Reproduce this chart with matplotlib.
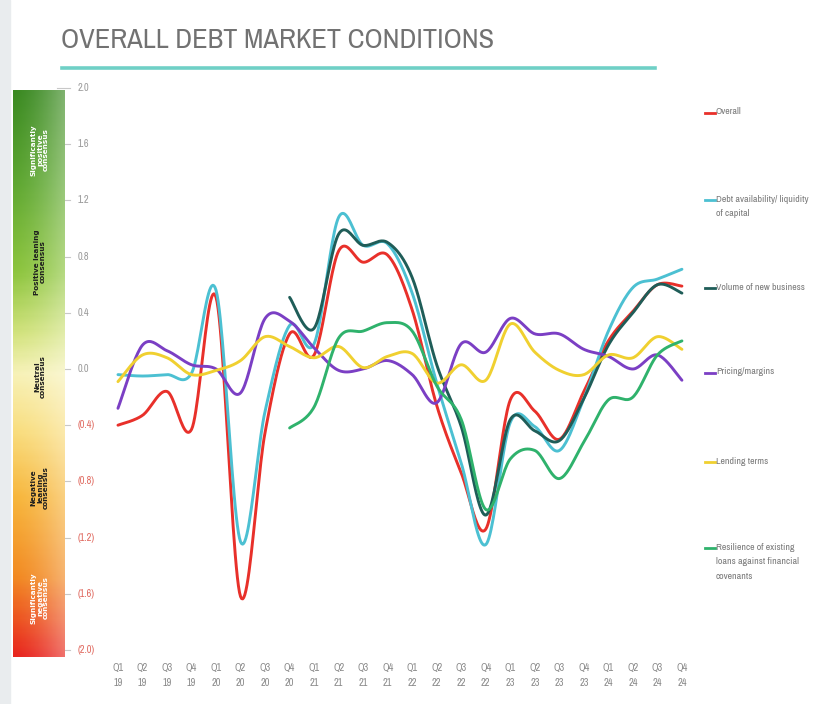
import numpy as np
import matplotlib
matplotlib.use("Agg")
import matplotlib.pyplot as plt
from matplotlib import font_manager as fm
from matplotlib.lines import Line2D
from matplotlib.transforms import blended_transform_factory
from matplotlib.colors import LinearSegmentedColormap

# ---------------- data ----------------
quarters = ["Q1\n19", "Q2\n19", "Q3\n19", "Q4\n19", "Q1\n20", "Q2\n20", "Q3\n20", "Q4\n20",
            "Q1\n21", "Q2\n21", "Q3\n21", "Q4\n21", "Q1\n22", "Q2\n22", "Q3\n22", "Q4\n22",
            "Q1\n23", "Q2\n23", "Q3\n23", "Q4\n23", "Q1\n24", "Q2\n24", "Q3\n24", "Q4\n24"]
nan = np.nan
overall = [-0.40, -0.33, -0.16, -0.43, 0.51, -1.62, -0.45, 0.25, 0.10, 0.84, 0.76, 0.81,
           0.42, -0.26, -0.74, -1.14, -0.22, -0.30, -0.50, -0.16, 0.20, 0.41, 0.60, 0.59]
debt_availability = [-0.04, -0.05, -0.04, -0.03, 0.56, -1.23, -0.30, 0.31, 0.18, 1.08, 0.88, 0.89,
                     0.54, -0.10, -0.67, -1.25, -0.38, -0.41, -0.58, -0.21, 0.27, 0.58, 0.64, 0.71]
volume_new_business = [nan, nan, nan, nan, nan, nan, nan, 0.51, 0.29, 0.96, 0.88, 0.90,
                       0.65, 0.03, -0.41, -1.04, -0.36, -0.44, -0.51, -0.21, 0.17, 0.40, 0.60, 0.54]
pricing_margins = [-0.28, 0.17, 0.13, 0.03, 0.00, -0.17, 0.36, 0.34, 0.15, -0.01, 0.00, 0.06,
                   -0.04, -0.24, 0.18, 0.12, 0.36, 0.25, 0.25, 0.14, 0.09, 0.00, 0.10, -0.08]
lending_terms = [-0.09, 0.10, 0.08, -0.04, -0.01, 0.06, 0.23, 0.16, 0.08, 0.16, 0.01, 0.09,
                 0.11, -0.10, 0.03, -0.08, 0.32, 0.12, -0.01, -0.04, 0.10, 0.08, 0.23, 0.14]
resilience = [nan, nan, nan, nan, nan, nan, nan, -0.42, -0.27, 0.22, 0.27, 0.33,
              0.27, -0.12, -0.36, -1.00, -0.64, -0.58, -0.78, -0.52, -0.22, -0.20, 0.10, 0.20]

series_names = ["Overall", "Debt availability/ liquidity\nof capital", "Volume of new business",
                "Pricing/margins", "Lending terms",
                "Resilience of existing\nloans against financial\ncovenants"]
series_values = [overall, debt_availability, volume_new_business, pricing_margins,
                 lending_terms, resilience]
series_colors = ["#e8302a", "#4cc0d2", "#1f5d58", "#7b3fc4", "#f0d030", "#2fb26c"]

y_ticks = [2.0, 1.6, 1.2, 0.8, 0.4, 0.0, -0.4, -0.8, -1.2, -1.6, -2.0]
y_tick_labels = ["2.0", "1.6", "1.2", "0.8", "0.4", "0.0", "(0.4)", "(0.8)", "(1.2)", "(1.6)", "(2.0)"]
band_labels = ["Significantly\npositive\nconsensus", "Positive leaning\nconsensus",
               "Neutral\nconsensus", "Negative\nleaning\nconsensus",
               "Significantly\nnegative\nconsensus"]

# ---------------- fonts ----------------
cond_font = None
preferred = None
for f in fm.fontManager.ttflist:
    n = f.name.lower()
    fn = f.fname.lower()
    if any(b in fn for b in ("bold", "oblique", "italic", "mono")):
        continue
    if "narrow" in n and preferred is None:
        preferred = f.fname
    if ("condensed" in n or "condensed" in fn or str(f.stretch) in ("condensed", "semi-condensed")) \
            and cond_font is None:
        cond_font = f.fname
cond_font = preferred or cond_font
if cond_font:
    fp_title = fm.FontProperties(fname=cond_font, size=20.5)
    fp_small = fm.FontProperties(fname=cond_font, size=7.1)
    fp_tick = fm.FontProperties(fname=cond_font, size=7.4)
else:
    fp_title = fm.FontProperties(family="Roboto", weight="light", size=18)
    fp_small = fm.FontProperties(family="Roboto", size=5.8)
    fp_tick = fm.FontProperties(family="Roboto", size=6.2)

W, H = 816, 704
fig = plt.figure(figsize=(W / 100, H / 100), dpi=100)
fig.patch.set_facecolor("white")


def fx(px):
    return px / W


def fy(py):
    return 1 - py / H


# ---------------- main axes ----------------
x_idx = np.arange(len(quarters))
ax = fig.add_axes([fx(110.6), fy(650), fx(578.7), 562 / H])
ax.set_xlim(-0.3, 23.3)
ax.set_ylim(-2.0, 2.0)
for s in ax.spines.values():
    s.set_visible(False)
ax.set_yticks([])
ax.set_xticks(x_idx)
ax.set_xticklabels(quarters, fontproperties=fp_tick, color="#8a8a8a", linespacing=1.75)
ax.tick_params(axis="x", length=0, pad=9)


def smooth(xs, ys, n=24):
    xs = np.asarray(xs, float)
    ys = np.asarray(ys, float)
    P = np.column_stack([xs, ys])
    out = []
    t = np.linspace(0, 1, n)[:, None]
    for i in range(len(P) - 1):
        p0 = P[i - 1] if i > 0 else P[i]
        p1, p2 = P[i], P[i + 1]
        p3 = P[i + 2] if i + 2 < len(P) else P[i + 1]
        c1 = p1 + (p2 - p0) / 6
        c2 = p2 - (p3 - p1) / 6
        seg = ((1 - t) ** 3) * p1 + 3 * ((1 - t) ** 2) * t * c1 + 3 * (1 - t) * t ** 2 * c2 + t ** 3 * p2
        out.append(seg if i == 0 else seg[1:])
    out = np.vstack(out)
    return out[:, 0], out[:, 1]


draw_order = [5, 4, 3, 1, 2, 0]
for k in draw_order:
    vals = np.asarray(series_values[k], float)
    ok = ~np.isnan(vals)
    sx, sy = smooth(x_idx[ok], vals[ok])
    ax.plot(sx, sy, color=series_colors[k], lw=2.1, solid_capstyle="round", zorder=3 + k)

# y tick labels + dashes to the left
tr = blended_transform_factory(fig.transFigure, ax.transData)
for v, lab in zip(y_ticks, y_tick_labels):
    col = "#9a9a9a" if v >= 0 else "#e06a60"
    ax.text(fx(78), v, lab, transform=tr, ha="left", va="center",
            fontproperties=fp_tick, color=col, clip_on=False)
    ax.plot([fx(57), fx(70)], [v, v], transform=tr, color="#c8c8c8", lw=0.8, clip_on=False)

# ---------------- gradient band ----------------
bax = fig.add_axes([fx(13), fy(657), fx(52), 567 / H])
stops = [(0.0, "#3b8a22"), (0.16, "#5ea731"), (0.32, "#8dc53e"), (0.43, "#d3e37e"),
         (0.5, "#f7f2b8"), (0.6, "#f9de80"), (0.72, "#f7b63c"), (0.86, "#f28a22"), (1.0, "#e8261e")]
cmap = LinearSegmentedColormap.from_list("band", stops)
rows = np.linspace(0, 1, 300)
cols = np.linspace(0, 1, 40)
img = np.array([cmap(r)[:3] for r in rows])[:, None, :] * np.ones((1, len(cols), 1))
mix = (0.35 * cols ** 1.5)[None, :, None]
img = img * (1 - mix) + mix
bax.imshow(img, aspect="auto", extent=[0, 1, 0, 1], origin="upper")
bax.set_xlim(0, 1)
bax.set_ylim(0, 1)
bax.axis("off")
band_y = [150, 262, 377, 488, 598]
band_col = ["white", "#1e1e1e", "#1e1e1e", "#1e1e1e", "white"]
for lab, py, c in zip(band_labels, band_y, band_col):
    fig.text(fx(40), fy(py), lab, rotation=90, ha="center", va="center", color=c,
             fontsize=5.2, fontweight="bold", linespacing=1.05, family="DejaVu Sans")
# left shadow strip
fig.patches.append(plt.Rectangle((0, 0), fx(10), 1, transform=fig.transFigure,
                                 color="#e9ecee", zorder=0))

# ---------------- title ----------------
fig.text(fx(61), fy(48), "OVERALL DEBT MARKET CONDITIONS", fontproperties=fp_title,
         color="#727272", ha="left", va="baseline")
fig.add_artist(Line2D([fx(62), fx(655)], [fy(68), fy(68)], color="#6fd0c6", lw=2.6))

# ---------------- legend ----------------
legend_y = [113, 200, 288, 373, 462, 548]
for name, col, py in zip(series_names, series_colors, legend_y):
    fig.add_artist(Line2D([fx(705), fx(715)], [fy(py), fy(py)], color=col, lw=2.0))
    fig.text(fx(716), fy(py - 5.5), name, ha="left", va="top", fontproperties=fp_small,
             color="#7a7a7a", linespacing=1.85)

fig.savefig("out.png", dpi=100)
